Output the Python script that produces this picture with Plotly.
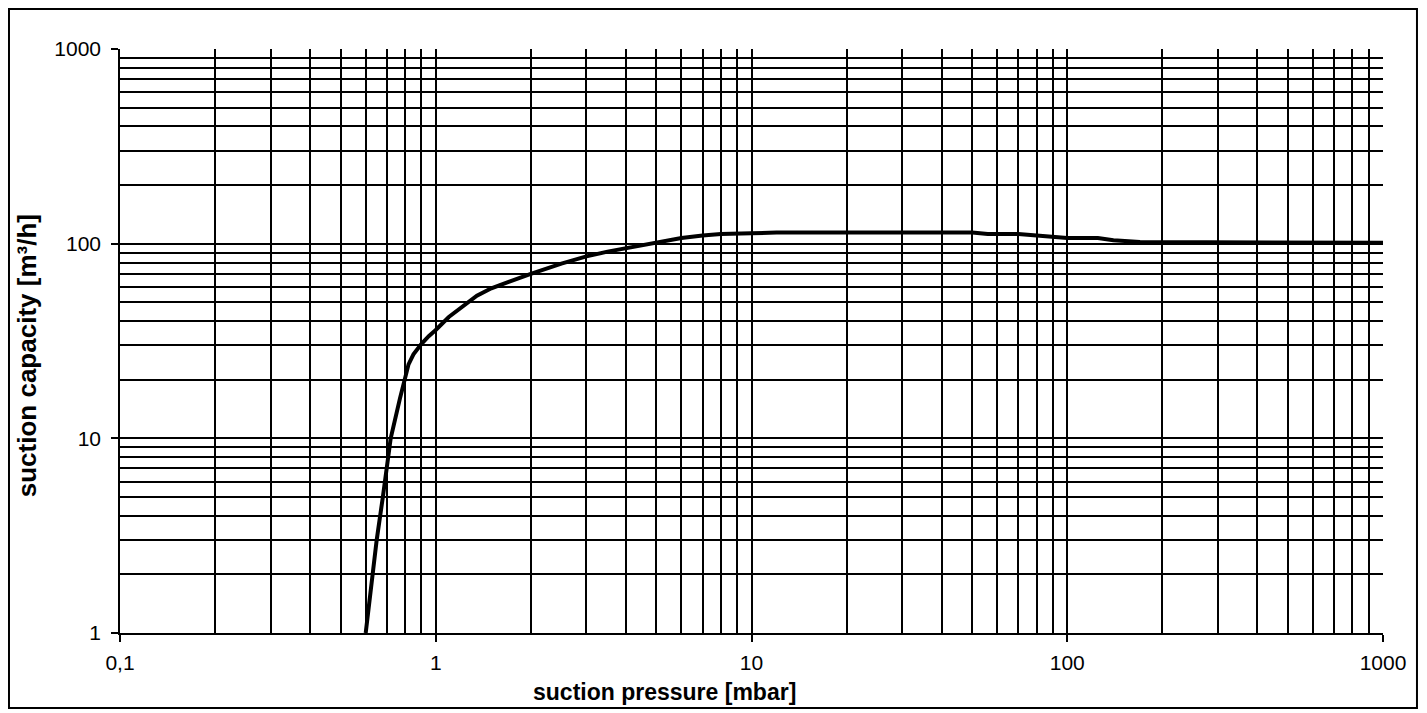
import plotly.graph_objects as go

# suction pressure [mbar]
pressure = [0.6, 0.63, 0.65, 0.68, 0.72, 0.77, 0.8, 0.82, 0.85, 0.9, 0.95, 1.0, 1.1, 1.2, 1.35, 1.5,
            1.75, 2.0, 2.5, 3.0, 3.5, 4.0, 5.0, 6.0, 7.0, 8.0, 10, 12, 20, 30, 50, 56, 70, 80,
            90, 100, 125, 140, 170, 340, 380, 1000]
# suction capacity [m³/h]
capacity = [1.0, 2.0, 3.0, 5.0, 10, 16, 21, 24, 27, 30.5, 33.5, 36, 42, 47, 54, 59,
            65, 70, 79, 86, 91, 95, 102, 107, 110, 112, 113, 114, 114, 114, 114, 112, 112, 110,
            108, 107, 107, 104, 102, 102, 101, 101]

x_tickvals = [0.1, 1, 10, 100, 1000]
x_ticktext = ["0,1", "1", "10", "100", "1000"]
y_tickvals = [1, 10, 100, 1000]
y_ticktext = ["1", "10", "100", "1000"]

x_title = "suction pressure [mbar]"
y_title = "suction capacity [m³/h]"

FONT = "Liberation Sans, Arial, sans-serif"

fig = go.Figure()
fig.add_trace(go.Scatter(
    x=pressure, y=capacity, mode="lines",
    line=dict(color="black", width=4),
    showlegend=False, hoverinfo="skip",
))

axis_common = dict(
    type="log",
    showline=True, linecolor="black", linewidth=1.5,
    showgrid=True, gridcolor="black", gridwidth=1.5,
    ticks="outside", ticklen=7, tickcolor="black", tickwidth=1.5,
    minor=dict(dtick="D1", showgrid=True, gridcolor="black", gridwidth=1.5, ticks=""),
    zeroline=False,
    tickfont=dict(family=FONT, size=21, color="black"),
    mirror=False,
)

fig.update_xaxes(
    **axis_common,
    range=[-1, 3],
    tickvals=x_tickvals, ticktext=x_ticktext,
    ticklabelstandoff=3,
)
fig.update_yaxes(
    **axis_common,
    range=[0, 3],
    tickvals=y_tickvals, ticktext=y_ticktext,
    ticklabelstandoff=6,
)

# axis titles (placed as in the reference: x title left of centre)
fig.add_annotation(text=f"<b>{x_title}</b>", xref="paper", yref="paper",
                   x=0.4315, y=-0.101, xanchor="center", yanchor="middle",
                   showarrow=False, font=dict(family=FONT, size=23, color="black"))
fig.add_annotation(text=f"<b>{y_title}</b>", xref="paper", yref="paper",
                   x=-0.0736, y=0.474, xanchor="center", yanchor="middle", textangle=-90,
                   showarrow=False, font=dict(family=FONT, size=26, color="black"))

fig.add_shape(type="rect", xref="paper", yref="paper",
              x0=-0.0879, x1=1.0269, y0=-0.1284, y1=1.0685,
              line=dict(color="black", width=2), fillcolor="rgba(0,0,0,0)", layer="above")

fig.update_layout(
    width=1419, height=705,
    margin=dict(l=112, r=44, t=41, b=80),
    paper_bgcolor="white", plot_bgcolor="white",
    separators=",.",
    font=dict(family=FONT, color="black"),
)

fig.write_html("out.html")
